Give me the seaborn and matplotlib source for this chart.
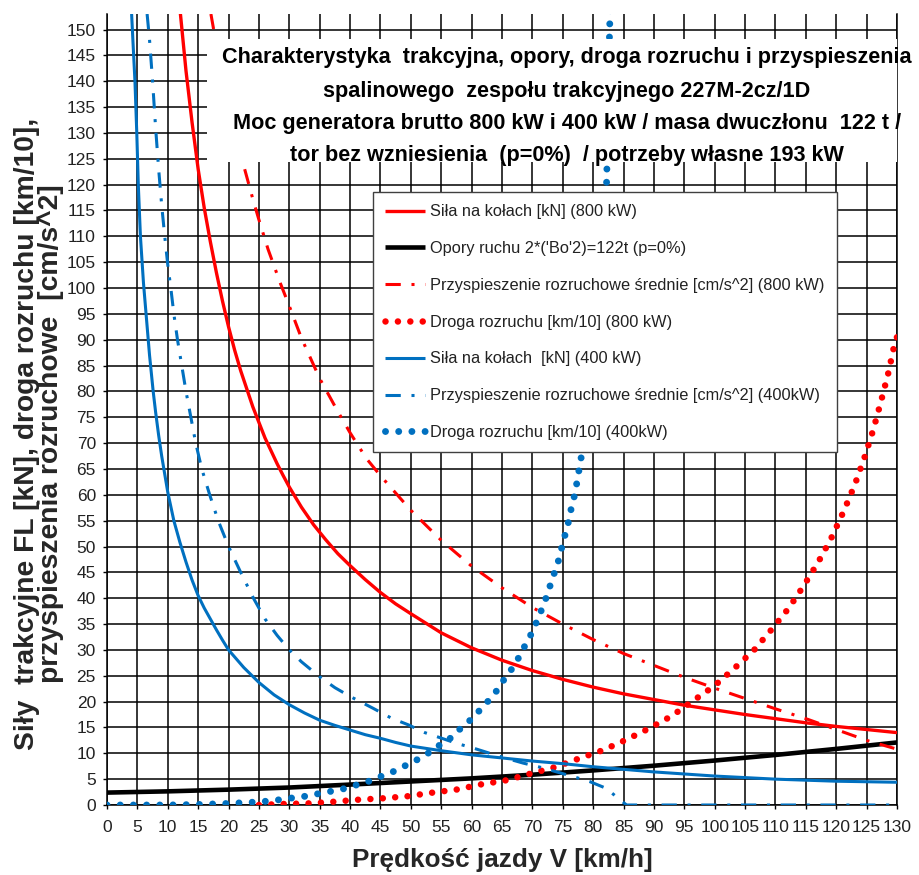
import matplotlib
matplotlib.use("Agg")
import matplotlib.pyplot as plt
import seaborn as sns
from matplotlib.patches import Rectangle

# ---------------- data ----------------
v_f800 = [12, 12.5, 13, 13.5, 14, 15, 16, 17, 18, 19, 20, 21, 22, 23, 24, 25, 26, 27, 28, 29,
          30, 32, 34, 36, 38, 40, 42.5, 45, 47.5, 50, 55, 60, 65, 70, 75, 80, 85, 90, 95,
          100, 105, 110, 115, 120, 125, 130]
f800 = [154, 148, 142, 137, 132, 123, 115.5, 109, 103, 97.5, 92.5, 88, 84, 80.5, 77, 74, 71,
        68.5, 66, 63.7, 61.5, 57.6, 54.2, 51.3, 48.6, 46.3, 43.6, 41.1, 38.9, 37, 33.3, 30.4,
        28.0, 26.0, 24.3, 22.8, 21.5, 20.4, 19.3, 18.4, 17.5, 16.7, 15.9, 15.2, 14.6, 14.0]

v_res = [0, 10, 20, 30, 40, 50, 60, 70, 80, 90, 100, 110, 120, 130]
res = [2.4, 2.64, 2.97, 3.38, 3.95, 4.55, 5.15, 5.86, 6.69, 7.6, 8.6, 9.68, 10.85, 12.1]

v_a800 = [17.1, 18, 19, 20, 21, 22, 23, 24, 25, 26.5, 28.5, 30, 32, 35, 37.8, 40, 42.7, 45,
          50, 55, 60, 65, 70, 75, 80, 85, 90, 95, 100, 105, 110, 115, 120, 125, 130]
a800 = [153, 147, 141, 135.5, 130.5, 125.8, 121.5, 117.2, 113.2, 107.5, 101, 96.5, 90.3, 82.5,
        76.5, 72, 67, 63.7, 57, 51.2, 46.2, 42, 38.2, 35, 32, 29.3, 27, 24.7, 22.6, 20.6,
        18.6, 16.7, 14.6, 12.5, 10.8]

v_d800 = [25, 29, 33, 37, 41, 45.5, 49.5, 53.6, 57.6, 61.6, 65.8, 69.8, 73.7, 77.7, 81.6,
          85.4, 89.2, 92.9, 96.5, 99.9, 103.2, 106.5, 109.4, 112.2, 114.7, 117.1, 119.3,
          121.3, 123.1, 124.7, 126.1, 127.4, 128.6, 129.6, 130]
d800 = [0, 0.2, 0.3, 0.6, 1.0, 1.3, 1.7, 2.4, 3.0, 4.0, 4.8, 6.1, 7.3, 9.0, 10.6, 12.6, 14.8,
        17.2, 20.2, 23, 26.4, 30, 34, 38.1, 42.5, 47.1, 51.9, 57, 62.1, 67.4, 72.6, 78.2,
        83.7, 89.2, 90.5]

v_f400 = [4.05, 4.3, 4.6, 4.9, 5.15, 5.5, 6, 6.5, 7, 7.6, 8, 8.5, 9, 9.5, 10, 11, 12, 13, 14,
          15, 16, 17, 18, 19, 20, 22.5, 25, 27.5, 30, 32.5, 35, 37.5, 40, 42.5, 45, 47.5, 50,
          55, 60, 65, 70, 75, 80, 85, 90, 95, 100, 105, 110, 115, 120, 125, 130]
f400 = [153, 147, 140, 130, 120, 110, 101, 94, 87, 80, 76, 71.5, 67.5, 64, 60.5, 55, 50.8,
        47, 43.5, 40.5, 38.1, 36, 33.9, 31.9, 30, 26.6, 23.7, 21.3, 19.4, 17.8, 16.4, 15.4,
        14.5, 13.6, 12.9, 12.1, 11.4, 10.5, 9.7, 9.1, 8.5, 8.0, 7.4, 6.9, 6.4, 6.0, 5.6,
        5.3, 5.0, 4.8, 4.6, 4.5, 4.4]

v_a400 = [6.6, 7.0, 7.5, 8.0, 8.5, 9.0, 9.5, 10, 10.5, 11, 11.6, 12.3, 13, 13.8, 14.6, 15.6,
          16.9, 18.3, 20, 22, 24.1, 26, 28, 30, 32, 35, 37.5, 40, 43.8, 46.8, 49.6, 52.3,
          55.1, 57.6, 60.3, 63, 65.8, 68.5, 71.3, 74, 76.7, 79.5, 82.2, 84.1, 85.5, 90, 100,
          110, 120, 130]
a400 = [153, 148, 140, 131, 123, 116, 110, 104.5, 100, 95, 90, 85, 80, 75, 70, 65, 60, 55,
        50, 45, 40, 36, 32.8, 30, 27.7, 24.8, 22.7, 21, 18.7, 16.8, 15.5, 14, 12.9, 11.9, 11,
        10, 9, 8.1, 7.3, 6.4, 5.5, 4.5, 3.2, 1.3, 0, 0, 0, 0, 0, 0]

v_d400 = [0, 10, 15, 20, 25, 26.8, 29, 31.2, 33.1, 35.2, 37.1, 39.2, 41.1, 43.1, 45, 47,
          48.9, 50.8, 52.7, 54.5, 56.3, 57.8, 59.5, 61, 62.5, 64, 65.3, 66.6, 67.8, 68.9, 70,
          70.9, 71.8, 72.6, 73.3, 74.1, 74.7, 75.3, 75.9, 76.4, 77, 77.4, 77.8, 78.6, 79.5,
          80.5, 81.3, 81.8, 82.2, 82.5, 82.7, 82.85]
d400 = [0, 0, 0.1, 0.3, 0.6, 0.8, 1.1, 1.5, 1.75, 2.3, 2.7, 3.2, 3.9, 4.6, 5.5, 6.4, 7.5, 8.6,
        9.9, 11.4, 12.7, 14.4, 16.1, 17.9, 19.8, 21.9, 24.2, 26.3, 28.6, 31.1, 33.5, 36, 38.6,
        41.2, 43.9, 46.4, 49.2, 51.9, 54.6, 57.4, 60.2, 62.9, 65.7, 71, 77, 85, 95, 106, 120,
        135, 150, 155]

labels = [
    "Siła na kołach [kN] (800 kW)",
    "Opory ruchu 2*('Bo'2)=122t (p=0%)",
    "Przyspieszenie rozruchowe średnie [cm/s^2] (800 kW)",
    "Droga rozruchu [km/10] (800 kW)",
    "Siła na kołach  [kN] (400 kW)",
    "Przyspieszenie rozruchowe średnie [cm/s^2] (400kW)",
    "Droga rozruchu [km/10] (400kW)",
]
title_lines = [
    "Charakterystyka  trakcyjna, opory, droga rozruchu i przyspieszenia",
    "spalinowego  zespołu trakcyjnego 227M-2cz/1D",
    "Moc generatora brutto 800 kW i 400 kW / masa dwuczłonu  122 t /",
    "tor bez wzniesienia  (p=0%)  / potrzeby własne 193 kW",
]
x_ticks = list(range(0, 131, 5))
y_ticks = list(range(0, 151, 5))

# ---------------- styling ----------------
sns.set_style("white")
plt.rcParams['font.family'] = ['Liberation Sans', 'DejaVu Sans']

RED = '#FF0000'
BLUE = '#0070C0'
DOTS = (0, (0.001, 1.9))
DASHDOT = (0, (5, 3.5, 1, 3.5))

fig = plt.figure(figsize=(9.19, 8.75), dpi=100)
ax = fig.add_axes([107 / 919, 70 / 875, 790 / 919, 791 / 875])

series = [
    (v_f800, f800, RED, 2.4, '-', 'butt'),
    (v_res, res, 'black', 3.3, '-', 'butt'),
    (v_a800, a800, RED, 2.2, DASHDOT, 'butt'),
    (v_d800, d800, RED, 4.7, DOTS, 'round'),
    (v_f400, f400, BLUE, 2.2, '-', 'butt'),
    (v_a400, a400, BLUE, 2.2, DASHDOT, 'butt'),
    (v_d400, d400, BLUE, 5.0, DOTS, 'round'),
]

handles = []
for (vx, vy, col, lw, ls, cap), lab in zip(series, labels):
    sns.lineplot(x=vx, y=vy, ax=ax, color=col, linewidth=lw, linestyle=ls,
                 estimator=None, sort=False, legend=False, label=lab)
    line = ax.lines[-1]
    line.set_dash_capstyle(cap)
    line.set_solid_capstyle('butt')
    line.set_solid_joinstyle('round')
    line.set_zorder(3)
    handles.append(line)

ax.set_xlim(0, 130)
ax.set_ylim(0, 153)
ax.set_xticks(x_ticks)
ax.set_yticks(y_ticks)
ax.set_xticklabels([str(t) for t in x_ticks])
ax.set_yticklabels([str(t) for t in y_ticks])
ax.grid(True, color='black', linewidth=1.1)
ax.set_axisbelow(True)
ax.tick_params(axis='both', which='major', bottom=True, left=True, direction='out',
               length=3, width=1, color='black', labelsize=12.5, labelcolor='#222222')
ax.tick_params(axis='x', pad=8)
ax.tick_params(axis='y', pad=5)
ax.spines['top'].set_visible(False)
for s in ('left', 'bottom', 'right'):
    ax.spines[s].set_color('black')
    ax.spines[s].set_linewidth(1.1)
ax.set_xlabel('')
ax.set_ylabel('')

# white title box inside the plot
ax.add_patch(Rectangle((16.5, 124.3), 120, 23.8, facecolor='white',
                       edgecolor='none', zorder=4))
title_y = [58, 91, 123, 155]
for txt, yp in zip(title_lines, title_y):
    fig.text(567 / 919, 1 - yp / 875, txt, ha='center', va='center',
             fontsize=15.6, fontweight='bold', color='black', zorder=6)

leg = ax.legend(handles, labels, loc='upper left', bbox_to_anchor=(0.3367, 0.775),
                borderaxespad=0, frameon=True, fancybox=False, edgecolor='#404040',
                framealpha=1, fontsize=11.8, handlelength=2.45, handletextpad=0.3,
                labelspacing=1.33, borderpad=0.75)
leg.get_frame().set_linewidth(1.0)
leg.set_zorder(5)
for t in leg.get_texts():
    t.set_color('#222222')

fig.text(0.042, 0.504,
         "Siły  trakcyjne FL [kN], droga rozruchu [km/10],\nprzyspieszenia rozruchowe  [cm/s^2]",
         rotation=90, ha='center', va='center', fontsize=20.3, fontweight='bold',
         multialignment='center', linespacing=0.9)
fig.text(502 / 919, 1 - 860 / 875, "Prędkość jazdy V [km/h]", ha='center', va='center',
         fontsize=18.8, fontweight='bold')

fig.savefig('out.png', dpi=100)
